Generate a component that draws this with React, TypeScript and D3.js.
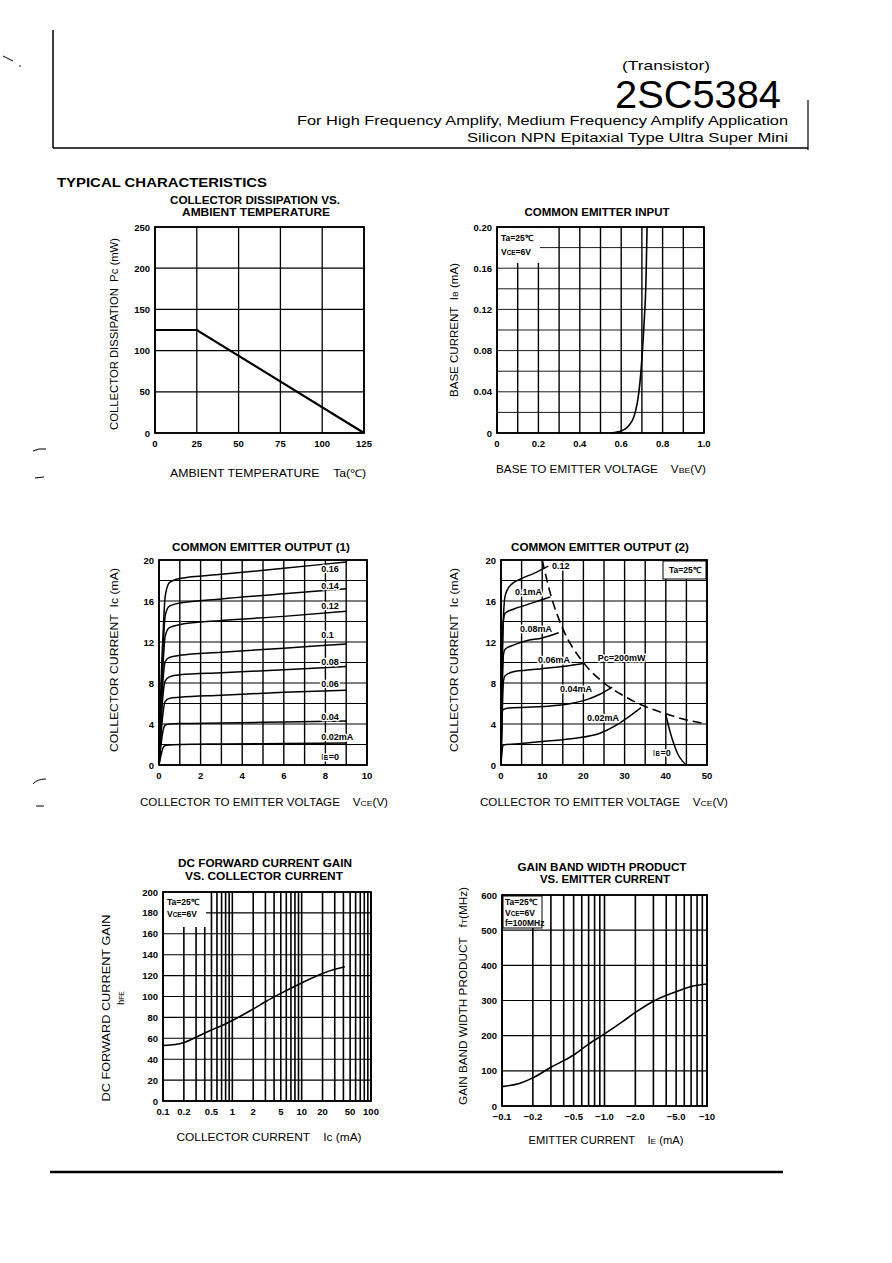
import React from "react";
import * as d3 from "d3";

const FONT = "'Liberation Sans', Arial, Helvetica, sans-serif";
const SP = "\u00A0";

// ---------- Chart 1: Collector dissipation vs ambient temperature ----------
const c1Ta = [0, 25, 125];
const c1Pc = [125, 125, 0];
const c1XTicks = [0, 25, 50, 75, 100, 125];
const c1YTicks = [0, 50, 100, 150, 200, 250];

// ---------- Chart 2: Common emitter input ----------
const c2Vbe = [0.55, 0.58, 0.6, 0.62, 0.64, 0.66, 0.67, 0.68, 0.69, 0.7, 0.71, 0.72, 0.725];
const c2Ib = [0, 0.001, 0.002, 0.004, 0.008, 0.015, 0.022, 0.032, 0.048, 0.072, 0.105, 0.15, 0.2];
const c2XTicks = [0, 0.2, 0.4, 0.6, 0.8, 1.0];
const c2XTickLabels = ["0", "0.2", "0.4", "0.6", "0.8", "1.0"];
const c2YTicks = [0, 0.04, 0.08, 0.12, 0.16, 0.2];
const c2YTickLabels = ["0", "0.04", "0.08", "0.12", "0.16", "0.20"];
const c2XGrid = [0, 0.1, 0.2, 0.3, 0.4, 0.5, 0.6, 0.7, 0.8, 0.9, 1.0];
const c2YGrid = [0, 0.02, 0.04, 0.06, 0.08, 0.1, 0.12, 0.14, 0.16, 0.18, 0.2];

// ---------- Chart 3: Common emitter output (1) ----------
const c3Vce = [0, 0.05, 0.1, 0.2, 0.3, 0.5, 1, 3, 6, 9];
const c3Ib16 = [0, 4, 8, 13, 16.5, 17.8, 18.2, 18.6, 19.2, 19.8];
const c3Ib14 = [0, 3.5, 7, 11.5, 14.6, 15.5, 15.8, 16.2, 16.7, 17.2];
const c3Ib12 = [0, 3, 6, 10, 12.6, 13.4, 13.7, 14.1, 14.5, 15.0];
const c3Ib10 = [0, 2.5, 5, 8.5, 10.1, 10.5, 10.7, 11.0, 11.4, 11.8];
const c3Ib08 = [0, 2, 4, 7, 8.2, 8.6, 8.8, 9.0, 9.3, 9.6];
const c3Ib06 = [0, 1.5, 3, 5.2, 6.2, 6.5, 6.6, 6.8, 7.1, 7.3];
const c3Ib04 = [0, 1, 2, 3.4, 3.9, 4.0, 4.05, 4.1, 4.2, 4.3];
const c3Ib02 = [0, 0.5, 1, 1.7, 1.9, 1.95, 2.0, 2.05, 2.1, 2.15];
const c3Series = [c3Ib16, c3Ib14, c3Ib12, c3Ib10, c3Ib08, c3Ib06, c3Ib04, c3Ib02];
const c3Labels = ["0.16", "0.14", "0.12", "0.1", "0.08", "0.06", "0.04", "0.02mA", "IB=0"];
const c3LabelIc = [19.2, 17.5, 15.6, 12.7, 10.1, 8.0, 4.7, 2.8, 0.8];
const c3XTicks = [0, 2, 4, 6, 8, 10];
const c3YTicks = [0, 4, 8, 12, 16, 20];
const c3XGrid = [0, 1, 2, 3, 4, 5, 6, 7, 8, 9, 10];
const c3YGrid = [0, 2, 4, 6, 8, 10, 12, 14, 16, 18, 20];

// ---------- Chart 4: Common emitter output (2) ----------
const c4Ib12Vce = [0, 0.3, 0.6, 1, 2, 5, 8, 11.5];
const c4Ib12Ic = [0, 9, 14.5, 16.5, 17.4, 18.2, 18.7, 19.4];
const c4Ib10Vce = [0, 0.2, 0.5, 1, 3, 6, 9, 12];
const c4Ib10Ic = [0, 9, 13.8, 14.8, 15.2, 15.6, 16.0, 16.4];
const c4Ib08Vce = [0, 0.3, 0.6, 1, 3, 6, 10, 14];
const c4Ib08Ic = [0, 7, 10.8, 11.3, 11.7, 12.1, 12.4, 12.9];
const c4Ib06Vce = [0, 0.3, 0.6, 1, 3, 6, 10, 15, 20];
const c4Ib06Ic = [0, 5, 8.2, 8.7, 9.1, 9.25, 9.4, 9.6, 9.9];
const c4Ib04Vce = [0, 0.2, 0.5, 2, 10, 17, 21, 24, 27];
const c4Ib04Ic = [0, 4.5, 5.4, 5.55, 5.7, 6.0, 6.4, 6.9, 7.6];
const c4Ib02Vce = [0, 0.3, 0.6, 5, 10, 18, 24, 28, 31, 34];
const c4Ib02Ic = [0, 1.5, 1.95, 2.1, 2.3, 2.6, 3.1, 3.9, 4.7, 5.6];
const c4Ib00Vce = [40, 41, 42, 43, 44, 45];
const c4Ib00Ic = [4.9, 3.3, 2.0, 1.0, 0.4, 0];
const c4PcVce = [10, 12, 15, 20, 25, 30, 35, 40, 45, 50];
const c4PcIc = [20, 16.7, 13.3, 10, 8, 6.7, 5.7, 5, 4.4, 4];
const c4XTicks = [0, 10, 20, 30, 40, 50];
const c4YTicks = [0, 4, 8, 12, 16, 20];
const c4XGrid = [0, 5, 10, 15, 20, 25, 30, 35, 40, 45, 50];
const c4YGrid = [0, 2, 4, 6, 8, 10, 12, 14, 16, 18, 20];

// ---------- Chart 5: DC current gain vs collector current ----------
const c5Ic = [0.1, 0.15, 0.2, 0.3, 0.5, 0.7, 1, 2, 3, 5, 10, 20, 30, 42];
const c5Hfe = [53, 54, 56, 61, 68, 72, 77, 88, 95, 103, 113, 122, 126, 128.5];
const c5XTicks = [0.1, 0.2, 0.5, 1, 2, 5, 10, 20, 50, 100];
const c5XTickLabels = ["0.1", "0.2", "0.5", "1", "2", "5", "10", "20", "50", "100"];
const c5YTicks = [0, 20, 40, 60, 80, 100, 120, 140, 160, 180, 200];
const c5XGrid = [0.1, 0.2, 0.3, 0.4, 0.5, 0.6, 0.7, 0.8, 0.9, 1, 2, 3, 4, 5, 6, 7, 8, 9, 10, 20, 30, 40, 50, 60, 70, 80, 90, 100];

// ---------- Chart 6: Gain bandwidth product vs emitter current ----------
const c6Ie = [0.1, 0.15, 0.2, 0.3, 0.5, 0.7, 1, 1.5, 2, 3, 5, 7, 10];
const c6Ft = [55, 65, 80, 110, 145, 176, 205, 240, 266, 298, 325, 340, 347];
const c6XTicks = [0.1, 0.2, 0.5, 1, 2, 5, 10];
const c6XTickLabels = ["−0.1", "−0.2", "−0.5", "−1.0", "−2.0", "−5.0", "−10"];
const c6YTicks = [0, 100, 200, 300, 400, 500, 600];
const c6XGrid = [0.1, 0.2, 0.3, 0.4, 0.5, 0.6, 0.7, 0.8, 0.9, 1, 2, 3, 4, 5, 6, 7, 8, 9, 10];

type Sc = any;

function Grid({ x, y, xGrid, yGrid, vw = 1.4, hw = 1.1 }: { x: Sc; y: Sc; xGrid: number[]; yGrid: number[]; vw?: number; hw?: number }) {
  const [x0, x1] = x.range();
  const [yb, yt] = y.range();
  return (
    <g>
      {xGrid.map((v, i) => (
        <line key={"v" + i} x1={x(v)} x2={x(v)} y1={yb} y2={yt} stroke="#000" strokeWidth={vw} />
      ))}
      {yGrid.map((v, i) => (
        <line key={"h" + i} x1={x0} x2={x1} y1={y(v)} y2={y(v)} stroke="#000" strokeWidth={hw} />
      ))}
      <rect x={x0} y={yt} width={x1 - x0} height={yb - yt} fill="none" stroke="#000" strokeWidth={1.8} />
    </g>
  );
}

function XTicks({ x, y, vals, labels }: { x: Sc; y: Sc; vals: number[]; labels?: string[] }) {
  const yb = y.range()[0];
  return (
    <g fontSize={9.5} fontWeight="bold" textAnchor="middle">
      {vals.map((v, i) => (
        <text key={i} x={x(v)} y={yb + 14}>{labels ? labels[i] : String(v)}</text>
      ))}
    </g>
  );
}

function YTicks({ x, y, vals, labels }: { x: Sc; y: Sc; vals: number[]; labels?: string[] }) {
  const x0 = x.range()[0];
  return (
    <g fontSize={9.5} fontWeight="bold" textAnchor="end">
      {vals.map((v, i) => (
        <text key={i} x={x0 - 5} y={y(v) + 3.5}>{labels ? labels[i] : String(v)}</text>
      ))}
    </g>
  );
}

function Title({ cx, y, text, w }: { cx: number; y: number; text: string; w: number }) {
  return (
    <text x={cx} y={y} textAnchor="middle" fontSize={10} fontWeight="bold" textLength={w} lengthAdjust="spacingAndGlyphs">
      {text}
    </text>
  );
}

function YLabel({ x, cy, w, children }: { x: number; cy: number; w: number; children: any }) {
  return (
    <text transform={`translate(${x},${cy}) rotate(-90)`} textAnchor="middle" fontSize={10.5} textLength={w} lengthAdjust="spacingAndGlyphs">
      {children}
    </text>
  );
}

function XLabel({ cx, y, w, children }: { cx: number; y: number; w: number; children: any }) {
  return (
    <text x={cx} y={y} textAnchor="middle" fontSize={10.5} textLength={w} lengthAdjust="spacingAndGlyphs">
      {children}
    </text>
  );
}

const sub = (s: string) => <tspan fontSize="0.75em">{s}</tspan>;

function pathOf(x: Sc, y: Sc, xs: number[], ys: number[], curve: any = d3.curveMonotoneX) {
  const pts = d3.zip(xs, ys) as [number, number][];
  return d3.line<[number, number]>().x((d) => x(d[0])).y((d) => y(d[1])).curve(curve)(pts) || "";
}

function Halo({ x, y, children, size = 9, anchor = "start" }: any) {
  return (
    <text x={x} y={y} fontSize={size} fontWeight="bold" textAnchor={anchor} stroke="#fff" strokeWidth={3} paintOrder="stroke" strokeLinejoin="round">
      {children}
    </text>
  );
}

export default function App() {
  const x1 = d3.scaleLinear().domain([0, 125]).range([155, 364]);
  const y1 = d3.scaleLinear().domain([0, 250]).range([433, 227]);
  const x2 = d3.scaleLinear().domain([0, 1]).range([497, 704]);
  const y2 = d3.scaleLinear().domain([0, 0.2]).range([433, 227]);
  const x3 = d3.scaleLinear().domain([0, 10]).range([159, 367]);
  const y3 = d3.scaleLinear().domain([0, 20]).range([765, 560]);
  const x4 = d3.scaleLinear().domain([0, 50]).range([501, 707]);
  const y4 = d3.scaleLinear().domain([0, 20]).range([765, 560]);
  const x5 = d3.scaleLog().domain([0.1, 100]).range([163, 371]);
  const y5 = d3.scaleLinear().domain([0, 200]).range([1101, 892]);
  const x6 = d3.scaleLog().domain([0.1, 10]).range([502, 707]);
  const y6 = d3.scaleLinear().domain([0, 600]).range([1106, 895]);

  const c1XGrid = c1XTicks;
  const c1YGrid = c1YTicks;
  const gap2 = SP + SP;
  const gap4 = SP + SP + SP + SP;

  return (
    <svg width={892} height={1263} style={{ position: "absolute", left: 0, top: 0, background: "#fff" }} fontFamily={FONT}>
      <rect width={892} height={1263} fill="#fff" />

      {/* header */}
      <line x1={53} x2={53} y1={30} y2={148} stroke="#000" strokeWidth={1.5} />
      <line x1={53} x2={808} y1={148} y2={148} stroke="#000" strokeWidth={1.5} />
      <line x1={808} x2={808} y1={100} y2={150} stroke="#000" strokeWidth={1.2} />
      <text x={666} y={70} textAnchor="middle" fontSize={13} textLength={88} lengthAdjust="spacingAndGlyphs">(Transistor)</text>
      <text x={781} y={108} textAnchor="end" fontSize={38} textLength={166} lengthAdjust="spacingAndGlyphs">2SC5384</text>
      <text x={788} y={125} textAnchor="end" fontSize={13.5} textLength={491} lengthAdjust="spacingAndGlyphs">For High Frequency Amplify, Medium Frequency Amplify Application</text>
      <text x={788} y={142} textAnchor="end" fontSize={13.5} textLength={321} lengthAdjust="spacingAndGlyphs">Silicon NPN Epitaxial Type Ultra Super Mini</text>
      <text x={57} y={187} fontSize={13} fontWeight="bold" textLength={210} lengthAdjust="spacingAndGlyphs">TYPICAL CHARACTERISTICS</text>

      {/* stray scan marks */}
      <path d="M3,56 L13,61" stroke="#000" strokeWidth={1} fill="none" />
      <circle cx={20} cy={66} r={0.8} fill="#000" />
      <path d="M33,451 Q38,448 46,449" stroke="#000" strokeWidth={1} fill="none" />
      <path d="M35,478 L44,477" stroke="#000" strokeWidth={1} fill="none" />
      <path d="M33,784 Q37,779 46,779" stroke="#000" strokeWidth={1} fill="none" />
      <path d="M36,806 L44,806" stroke="#000" strokeWidth={1} fill="none" />

      {/* ===== Chart 1 ===== */}
      <Title cx={255} y={204} text="COLLECTOR DISSIPATION VS." w={170} />
      <Title cx={256} y={216} text="AMBIENT TEMPERATURE" w={148} />
      <Grid x={x1} y={y1} xGrid={c1XGrid} yGrid={c1YGrid} vw={1.3} hw={1.2} />
      <path d={pathOf(x1, y1, c1Ta, c1Pc, d3.curveLinear)} fill="none" stroke="#000" strokeWidth={2.2} />
      <XTicks x={x1} y={y1} vals={c1XTicks} />
      <YTicks x={x1} y={y1} vals={c1YTicks} />
      <YLabel x={118} cy={334} w={192}>{`COLLECTOR DISSIPATION${gap2}Pc (mW)`}</YLabel>
      <XLabel cx={268} y={477} w={196}>{`AMBIENT TEMPERATURE${gap4}Ta(℃)`}</XLabel>

      {/* ===== Chart 2 ===== */}
      <Title cx={597} y={216} text="COMMON EMITTER INPUT" w={145} />
      <Grid x={x2} y={y2} xGrid={c2XGrid} yGrid={c2YGrid} vw={1.4} hw={0.9} />
      <rect x={498} y={228} width={42} height={35} fill="#fff" />
      <text x={501} y={241} fontSize={8.5} fontWeight="bold">Ta=25℃</text>
      <text x={501} y={255} fontSize={8.5} fontWeight="bold">V{sub("CE")}=6V</text>
      <path d={pathOf(x2, y2, c2Vbe, c2Ib)} fill="none" stroke="#000" strokeWidth={1.6} />
      <XTicks x={x2} y={y2} vals={c2XTicks} labels={c2XTickLabels} />
      <YTicks x={x2} y={y2} vals={c2YTicks} labels={c2YTickLabels} />
      <YLabel x={458} cy={330} w={134}>{`BASE CURRENT${gap2}I`}{sub("B")} (mA)</YLabel>
      <XLabel cx={601} y={473} w={210}>{`BASE TO EMITTER VOLTAGE${gap4}V`}{sub("BE")}(V)</XLabel>

      {/* ===== Chart 3 ===== */}
      <Title cx={261} y={551} text="COMMON EMITTER OUTPUT (1)" w={178} />
      <Grid x={x3} y={y3} xGrid={c3XGrid} yGrid={c3YGrid} vw={1.4} hw={1.1} />
      {c3Series.map((s, i) => (
        <path key={i} d={pathOf(x3, y3, c3Vce, s)} fill="none" stroke="#000" strokeWidth={1.5} />
      ))}
      {c3Labels.map((l, i) => (
        <Halo key={i} x={x3(7.8)} y={y3(c3LabelIc[i]) + 3.5}>
          {l === "IB=0" ? <>I{sub("B")}=0</> : l}
        </Halo>
      ))}
      <XTicks x={x3} y={y3} vals={c3XTicks} />
      <YTicks x={x3} y={y3} vals={c3YTicks} />
      <YLabel x={118} cy={660} w={184}>{`COLLECTOR CURRENT${gap2}Ic (mA)`}</YLabel>
      <XLabel cx={264} y={806} w={248}>{`COLLECTOR TO EMITTER VOLTAGE${gap4}V`}{sub("CE")}(V)</XLabel>

      {/* ===== Chart 4 ===== */}
      <Title cx={600} y={551} text="COMMON EMITTER OUTPUT (2)" w={178} />
      <Grid x={x4} y={y4} xGrid={c4XGrid} yGrid={c4YGrid} vw={1.4} hw={1.1} />
      <rect x={663} y={561} width={43} height={18} fill="#fff" stroke="#000" strokeWidth={1} />
      <text x={669} y={573} fontSize={8.5} fontWeight="bold">Ta=25℃</text>
      <path d={pathOf(x4, y4, c4Ib12Vce, c4Ib12Ic)} fill="none" stroke="#000" strokeWidth={1.5} />
      <path d={pathOf(x4, y4, c4Ib10Vce, c4Ib10Ic)} fill="none" stroke="#000" strokeWidth={1.5} />
      <path d={pathOf(x4, y4, c4Ib08Vce, c4Ib08Ic)} fill="none" stroke="#000" strokeWidth={1.5} />
      <path d={pathOf(x4, y4, c4Ib06Vce, c4Ib06Ic)} fill="none" stroke="#000" strokeWidth={1.5} />
      <path d={pathOf(x4, y4, c4Ib04Vce, c4Ib04Ic)} fill="none" stroke="#000" strokeWidth={1.5} />
      <path d={pathOf(x4, y4, c4Ib02Vce, c4Ib02Ic)} fill="none" stroke="#000" strokeWidth={1.5} />
      <path d={pathOf(x4, y4, c4Ib00Vce, c4Ib00Ic)} fill="none" stroke="#000" strokeWidth={1.5} />
      <path d={pathOf(x4, y4, c4PcVce, c4PcIc)} fill="none" stroke="#000" strokeWidth={1.6} strokeDasharray="9,5" />
      <Halo x={x4(12.4)} y={y4(19.5) + 3.5}>0.12</Halo>
      <Halo x={x4(3.4)} y={y4(16.9) + 3.5}>0.1mA</Halo>
      <Halo x={x4(4.6)} y={y4(13.3) + 3.5}>0.08mA</Halo>
      <Halo x={x4(9.0)} y={y4(10.3) + 3.5}>0.06mA</Halo>
      <Halo x={x4(23.5)} y={y4(10.5) + 3.5}>Pc=200mW</Halo>
      <Halo x={x4(14.3)} y={y4(7.5) + 3.5}>0.04mA</Halo>
      <Halo x={x4(20.9)} y={y4(4.6) + 3.5}>0.02mA</Halo>
      <Halo x={x4(36.9)} y={y4(1.2) + 3.5}>I{sub("B")}=0</Halo>
      <XTicks x={x4} y={y4} vals={c4XTicks} />
      <YTicks x={x4} y={y4} vals={c4YTicks} />
      <YLabel x={458} cy={660} w={184}>{`COLLECTOR CURRENT${gap2}Ic (mA)`}</YLabel>
      <XLabel cx={604} y={806} w={248}>{`COLLECTOR TO EMITTER VOLTAGE${gap4}V`}{sub("CE")}(V)</XLabel>

      {/* ===== Chart 5 ===== */}
      <Title cx={265} y={867} text="DC FORWARD CURRENT GAIN" w={174} />
      <Title cx={264} y={880} text="VS. COLLECTOR CURRENT" w={158} />
      <Grid x={x5} y={y5} xGrid={c5XGrid} yGrid={c5YTicks} vw={1.6} hw={1.1} />
      <rect x={164} y={893} width={42} height={34} fill="#fff" />
      <text x={167} y={905} fontSize={8.5} fontWeight="bold">Ta=25℃</text>
      <text x={167} y={917} fontSize={8.5} fontWeight="bold">V{sub("CE")}=6V</text>
      <path d={pathOf(x5, y5, c5Ic, c5Hfe)} fill="none" stroke="#000" strokeWidth={1.6} />
      <XTicks x={x5} y={y5} vals={c5XTicks} labels={c5XTickLabels} />
      <YTicks x={x5} y={y5} vals={c5YTicks} />
      <YLabel x={110} cy={1008} w={187}>DC FORWARD CURRENT GAIN</YLabel>
      <text transform="translate(124,998) rotate(-90)" textAnchor="middle" fontSize={9}>h{sub("FE")}</text>
      <XLabel cx={269} y={1141} w={185}>{`COLLECTOR CURRENT${gap4}Ic (mA)`}</XLabel>

      {/* ===== Chart 6 ===== */}
      <Title cx={602} y={871} text="GAIN BAND WIDTH PRODUCT" w={169} />
      <Title cx={605} y={883} text="VS. EMITTER CURRENT" w={130} />
      <Grid x={x6} y={y6} xGrid={c6XGrid} yGrid={c6YTicks} vw={1.6} hw={1.1} />
      <rect x={503} y={896} width={39} height={32} fill="#fff" stroke="#000" strokeWidth={1} />
      <text x={505} y={905} fontSize={8.5} fontWeight="bold">Ta=25℃</text>
      <text x={505} y={916} fontSize={8.5} fontWeight="bold">V{sub("CE")}=6V</text>
      <text x={505} y={926} fontSize={8.5} fontWeight="bold">f=100MHz</text>
      <path d={pathOf(x6, y6, c6Ie, c6Ft)} fill="none" stroke="#000" strokeWidth={1.6} />
      <XTicks x={x6} y={y6} vals={c6XTicks} labels={c6XTickLabels} />
      <YTicks x={x6} y={y6} vals={c6YTicks} />
      <YLabel x={467} cy={996} w={218}>{`GAIN BAND WIDTH PRODUCT${gap2}${SP}f`}{sub("T")}(MHz)</YLabel>
      <XLabel cx={606} y={1144} w={155}>{`EMITTER CURRENT${gap4}I`}{sub("E")} (mA)</XLabel>

      {/* footer rule */}
      <line x1={50} x2={783} y1={1172} y2={1172} stroke="#000" strokeWidth={2.5} />
    </svg>
  );
}
